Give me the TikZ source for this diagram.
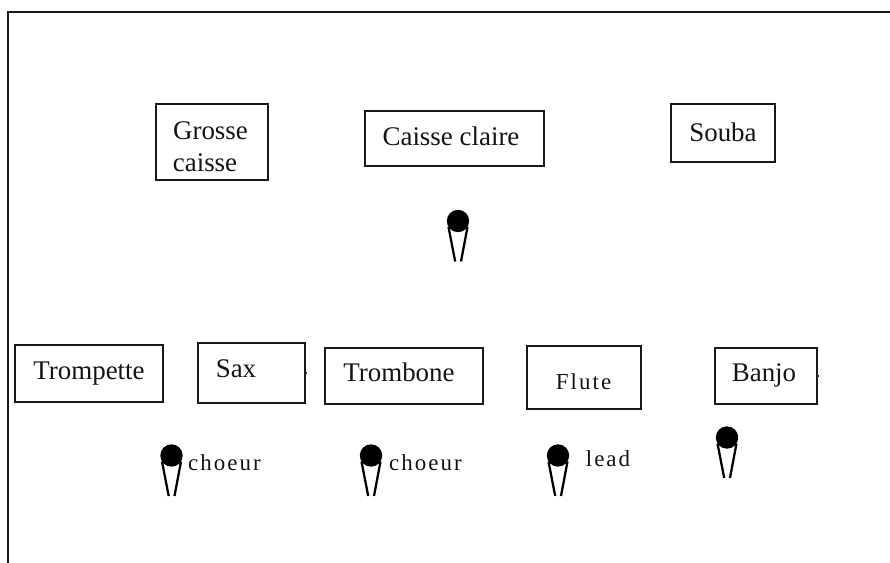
\documentclass[tikz,border=0pt]{standalone}
\usepackage{fontspec}
\setmainfont{Liberation Serif}
\newfontfamily\spaced[LetterSpace=9]{Liberation Serif}
\newcommand{\micro}[3]{%
  \coordinate (#1) at (#2,#3);
  \coordinate (#1l) at (#2-9.5,#3+6);
  \coordinate (#1r) at (#2+9.5,#3+6);
  \coordinate (#1a) at (#2-2.8,#3+40.5);
  \coordinate (#1b) at (#2+3,#3+40.5);
  \draw[micline] (#1l) -- (#1a) (#1r) -- (#1b);
  \fill[black] (#1) circle (11.2);
}
\begin{document}
\begin{tikzpicture}[x=0.75pt,y=-0.75pt,
  inst/.style={draw=black!90,line width=1.5pt,rectangle,inner sep=0pt,outer sep=0pt,anchor=north west},
  lab/.style={font=\fontsize{20.2pt}{24pt}\selectfont,text=black!92,inner sep=0pt,anchor=base,align=center},
  sp/.style={font=\fontsize{17.2pt}{20pt}\spaced,text=black!92,inner sep=0pt,anchor=base},
  micline/.style={line width=1.7pt,black},
  frameline/.style={line width=1.5pt,black!90},
  speck/.style={line width=0.9pt,black!80}]
\useasboundingbox (0,0) rectangle (890,563);
\fill[white] (0,0) rectangle (890,563);
\coordinate (tl) at (8,12);
\coordinate (tr) at (890,12);
\coordinate (bl) at (8,563);
\draw[frameline] (tr) -- (tl) -- (bl);

\node[inst,minimum width=112.5pt*0.75,minimum height=76pt*0.75] (grosse) at (155.8,104.3) {};
\node[inst,minimum width=179.5pt*0.75,minimum height=55pt*0.75] (caisse) at (364.5,111.3) {};
\node[inst,minimum width=104pt*0.75,minimum height=58pt*0.75] (souba) at (670.8,104.3) {};
\node[inst,minimum width=148pt*0.75,minimum height=57pt*0.75] (trompette) at (14.5,344.8) {};
\node[inst,minimum width=106.5pt*0.75,minimum height=59.5pt*0.75] (sax) at (198,343.3) {};
\node[inst,minimum width=158pt*0.75,minimum height=56pt*0.75] (trombone) at (324.5,347.8) {};
\node[inst,minimum width=114pt*0.75,minimum height=63.6pt*0.75,line width=1.3pt] (flute) at (526.7,345.7) {};
\node[inst,minimum width=102pt*0.75,minimum height=56.5pt*0.75] (banjo) at (714.5,347.8) {};

\draw[speck] (sax.east) -- ++(2.5,0);
\draw[speck] (banjo.east) -- ++(2.5,0);

\node[lab] (t1) at (210.5,140) {Grosse};
\node[lab] (t1b) at (205,172) {caisse};
\node[lab] (t2) at (451,146) {Caisse claire};
\node[lab] (t3) at (723,142) {Souba};
\node[lab] (t4) at (89,379.5) {Trompette};
\node[lab] (t5) at (236,377.5) {Sax};
\node[lab] (t6) at (399,381.5) {Trombone};
\node[sp] (t7) at (583.5,389) {Flute};
\node[lab] (t8) at (764,381.5) {Banjo};
\node[sp] (c1) at (224.5,470) {choeur};
\node[sp] (c2) at (425.5,470) {choeur};
\node[sp] (c3) at (608,466) {lead};

\micro{m1}{458}{221}
\micro{m2}{171.5}{455.5}
\micro{m3}{371}{455.5}
\micro{m4}{558}{455.5}
\micro{m5}{727}{437.5}
\end{tikzpicture}
\end{document}
